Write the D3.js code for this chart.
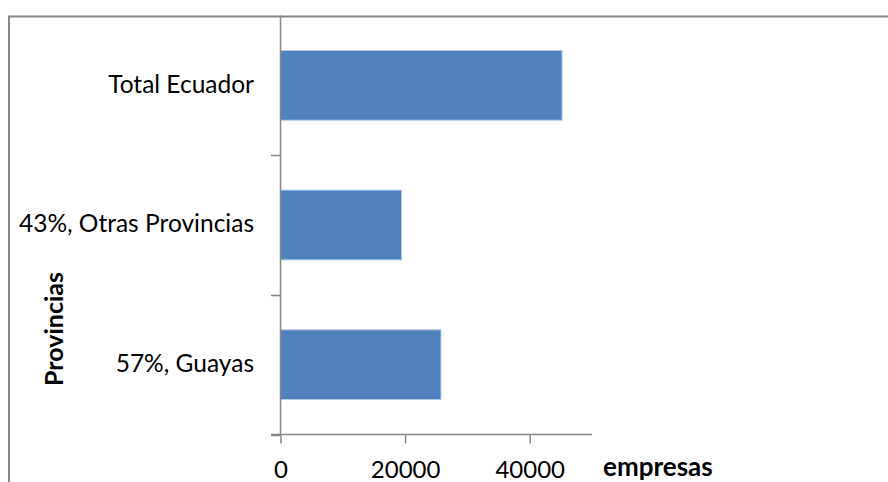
<!DOCTYPE html>
<html>
<head>
<meta charset="utf-8">
<script src="https://cdn.jsdelivr.net/npm/d3@7"></script>
<style>
  html, body { margin: 0; padding: 0; background: #fff; overflow: hidden; }
  svg { display: block; font-family: Lato, "Open Sans", sans-serif; }
</style>
</head>
<body>
<svg id="chart" width="888" height="482"></svg>
<script>
// Companies by province (top to bottom)
const categories = ["Total Ecuador", "43%, Otras Provincias", "57%, Guayas"];
const empresas = [45200, 19440, 25760];
const xTicks = [0, 20000, 40000];
const xMax = 50000;
const xTitle = "empresas";
const yTitle = "Provincias";

const svg = d3.select("#chart");
const grey = "#868686";

const plot = { left: 280.5, right: 592, top: 15.5, bottom: 434.5 };

// outer chart frame (extends past the view on the right and bottom)
svg.append("rect")
  .attr("x", 9).attr("y", 16.5)
  .attr("width", 1000).attr("height", 1000)
  .attr("fill", "none").attr("stroke", grey).attr("stroke-width", 2);

const x = d3.scaleLinear().domain([0, xMax]).range([plot.left, plot.right]);
const y = d3.scaleBand().domain(categories)
  .range([plot.top, plot.bottom]).paddingInner(0.5).paddingOuter(0.25);

// bars
svg.append("g").selectAll("rect")
  .data(categories.map((c, i) => ({ c, v: empresas[i] })))
  .join("rect")
  .attr("x", x(0))
  .attr("y", d => y(d.c))
  .attr("width", d => x(d.v) - x(0))
  .attr("height", y.bandwidth())
  .attr("fill", "#4F81BD")
  .attr("stroke", "#B9CDE5")
  .attr("stroke-width", 1);

// category axis: line plus ticks on category boundaries
const step = y.step();
const bounds = categories.map(c => y(c) - step * 0.25).concat([plot.bottom]);
const yAxis = svg.append("g");
yAxis.append("line")
  .attr("x1", plot.left).attr("x2", plot.left)
  .attr("y1", plot.top).attr("y2", plot.bottom)
  .attr("stroke", grey).attr("stroke-width", 1.5);
yAxis.selectAll("line.tick")
  .data(bounds.slice(1))
  .join("line").attr("class", "tick")
  .attr("x1", plot.left - 9.5).attr("x2", plot.left)
  .attr("y1", d => Math.round(d) + 0.5).attr("y2", d => Math.round(d) + 0.5)
  .attr("stroke", grey).attr("stroke-width", 1.5);
yAxis.selectAll("text")
  .data(categories)
  .join("text")
  .attr("x", 254)
  .attr("y", d => y(d) + y.bandwidth() / 2 + 1)
  .attr("text-anchor", "end")
  .attr("dominant-baseline", "middle")
  .attr("font-size", 24.5)
  .attr("fill", "#000")
  .text(d => d);

// value axis
const xAxis = svg.append("g")
  .attr("transform", `translate(0,${plot.bottom})`)
  .call(d3.axisBottom(x).tickValues(xTicks).tickSize(9).tickPadding(17)
    .tickFormat(d3.format("d")));
xAxis.select(".domain").remove();
xAxis.append("line")
  .attr("x1", plot.left - 9.5).attr("x2", plot.right)
  .attr("y1", 0).attr("y2", 0)
  .attr("stroke", grey).attr("stroke-width", 1.5);
xAxis.selectAll(".tick line").attr("stroke", grey).attr("stroke-width", 1.5);
xAxis.selectAll(".tick text")
  .attr("font-size", 24).attr("font-family", "Lato, sans-serif")
  .attr("fill", "#000");

// axis titles
svg.append("text")
  .attr("x", 603).attr("y", 476)
  .attr("font-size", 26).attr("font-weight", "bold")
  .attr("fill", "#000")
  .text(xTitle);

svg.append("text")
  .attr("transform", "translate(63,329) rotate(-90)")
  .attr("text-anchor", "middle")
  .attr("font-size", 25).attr("font-weight", "bold")
  .attr("fill", "#000")
  .text(yTitle);
</script>
</body>
</html>
